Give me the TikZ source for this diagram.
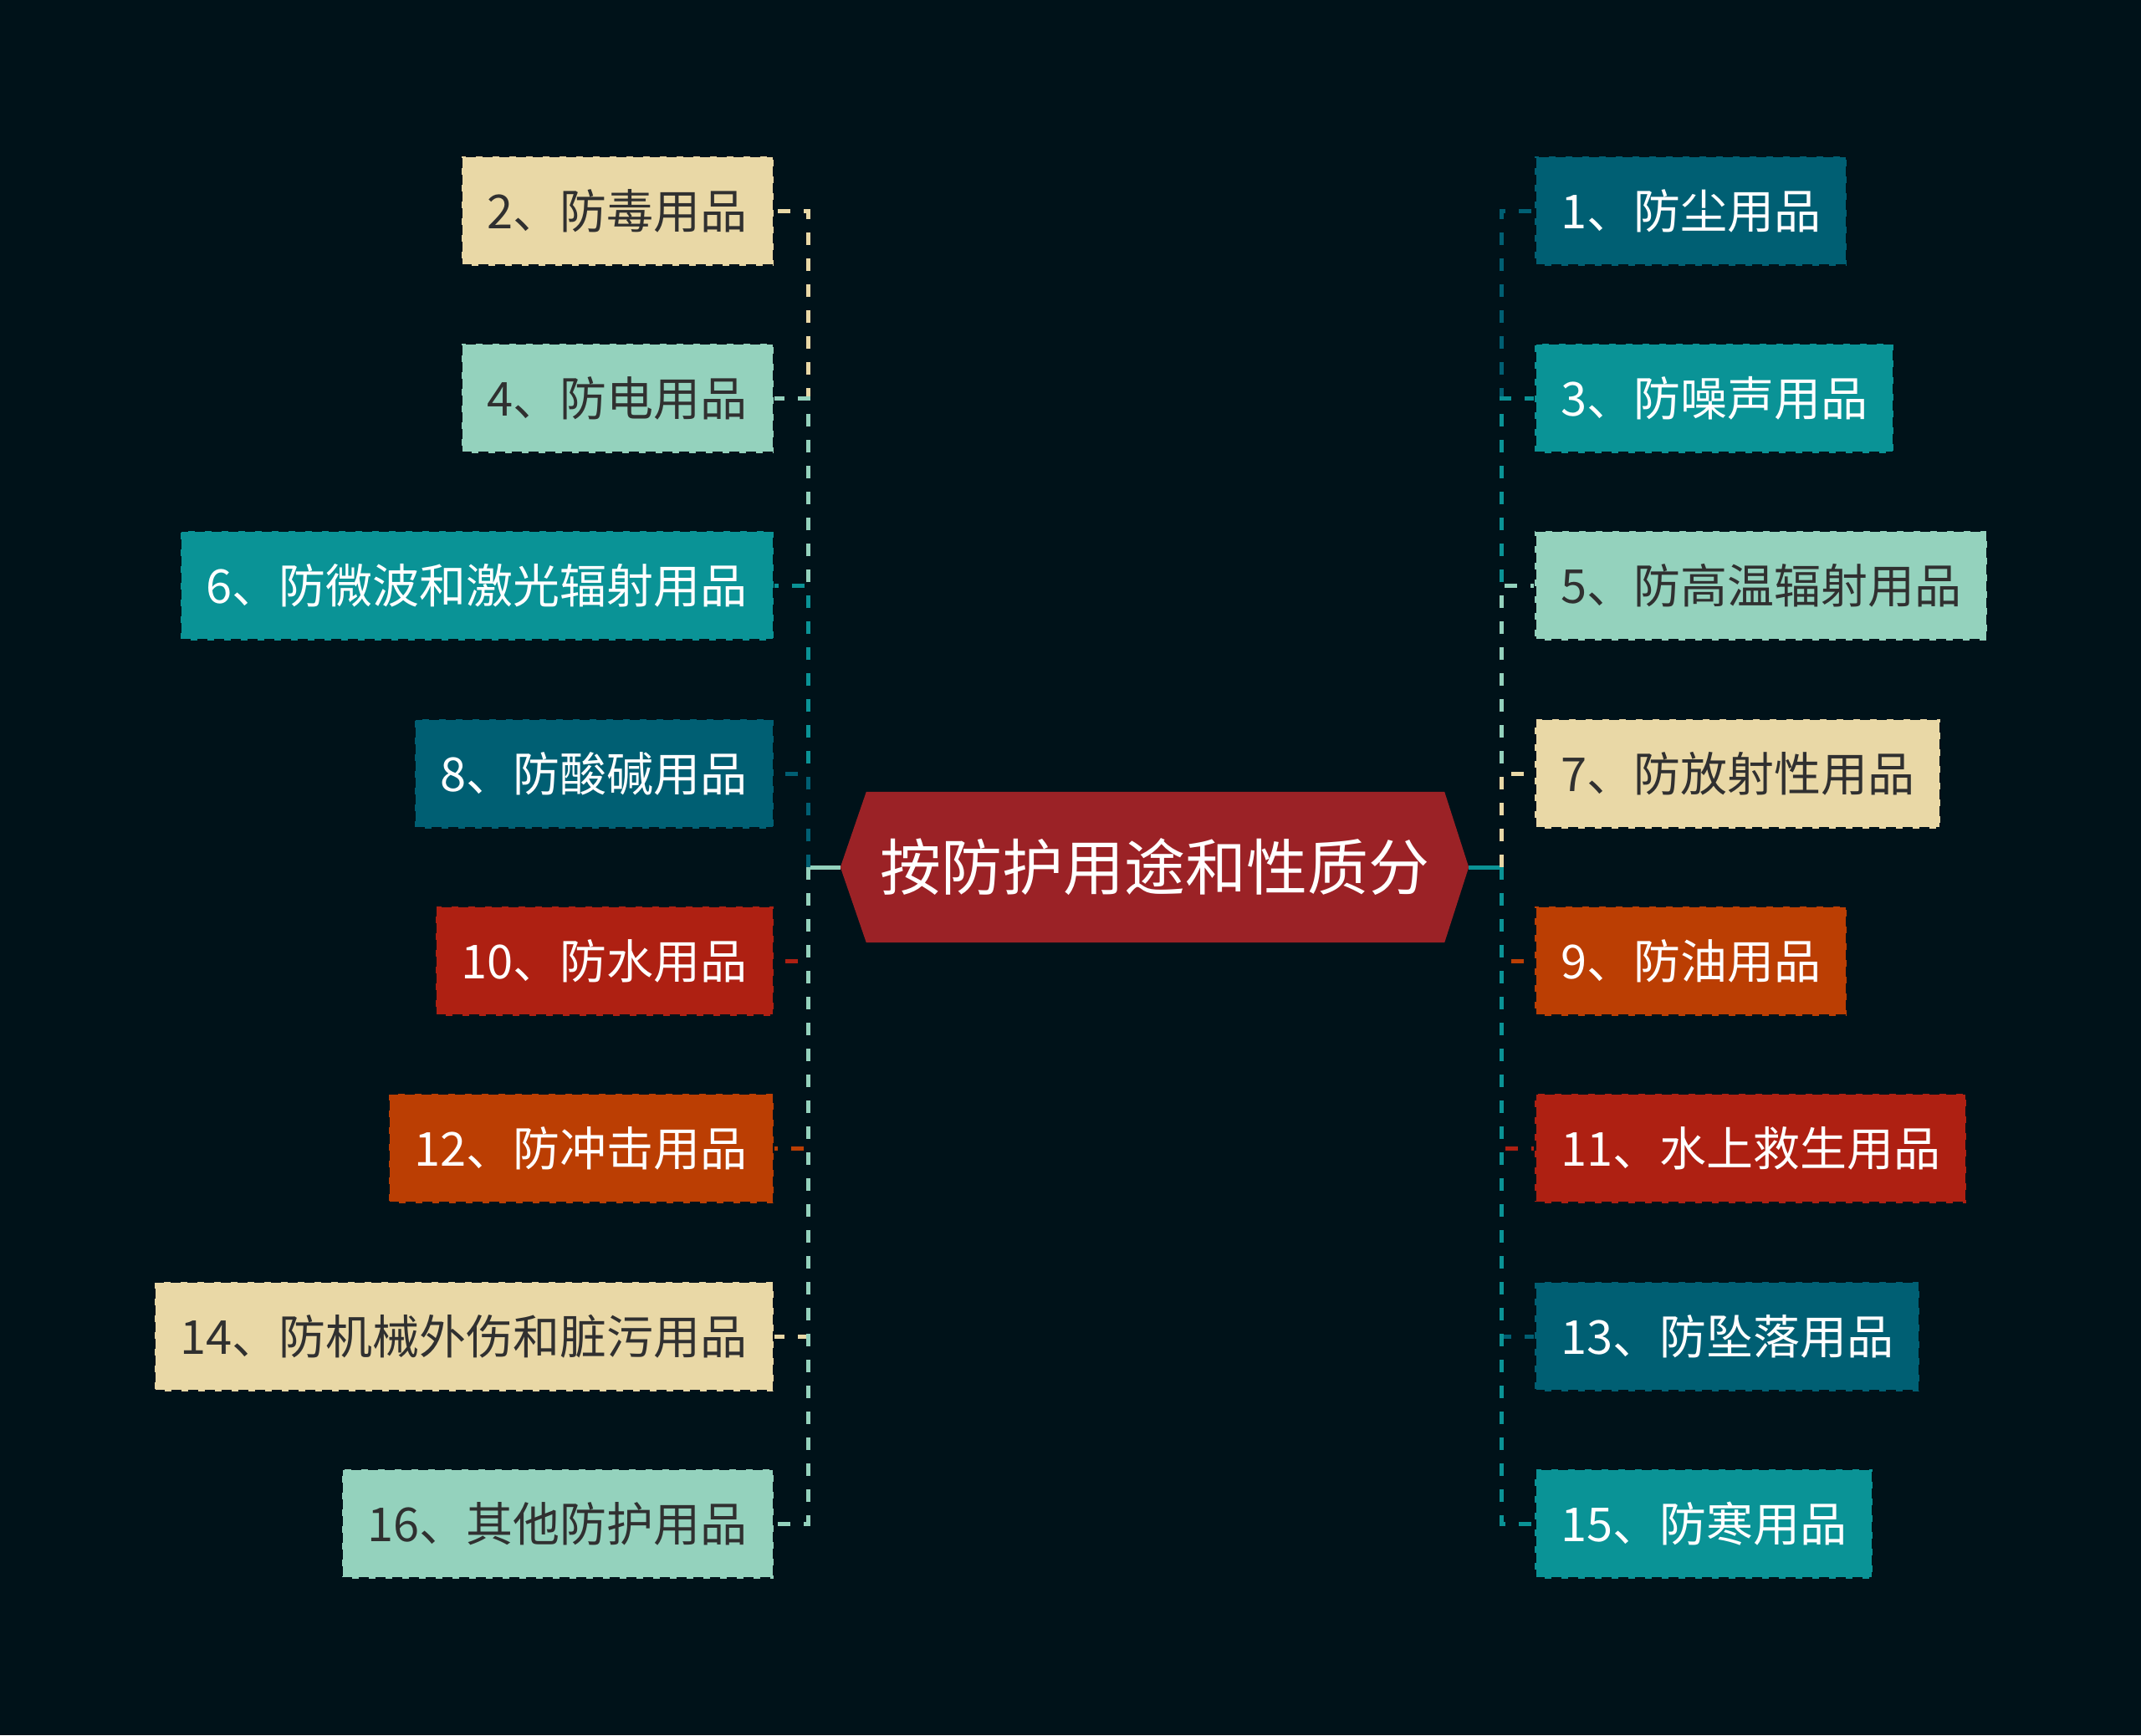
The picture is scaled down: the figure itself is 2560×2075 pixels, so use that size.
\documentclass[tikz,border=0pt]{standalone}
\usepackage{fontspec}
\setmainfont{Noto Sans CJK SC}
\usetikzlibrary{calc,backgrounds}
\definecolor{bg}{HTML}{001219}
\definecolor{cdteal}{HTML}{005F73}
\definecolor{cteal}{HTML}{0A9396}
\definecolor{clteal}{HTML}{94D2BD}
\definecolor{ctan}{HTML}{E9D8A6}
\definecolor{corange}{HTML}{BB3E03}
\definecolor{cred}{HTML}{AE2012}
\definecolor{cdred}{HTML}{9B2226}
\definecolor{cdark}{HTML}{303030}
\begin{document}
\begin{tikzpicture}[x=1bp,y=-1bp,
  leaf/.style={rectangle, minimum height=131bp, inner xsep=31bp, inner ysep=0bp,
    font=\fontsize{56bp}{60bp}\selectfont, draw=bg, line width=2.5bp,
    dash pattern=on 12bp off 8bp},
  lightbox/.style={leaf, fill=#1, text=cdark},
  darkbox/.style={leaf, fill=#1, text=white},
  conn/.style={line width=5bp, dash pattern=on 15bp off 16bp},
  trunk/.style={line width=5bp}]
\useasboundingbox (0,0) rectangle (2560,2075);

\node[minimum width=751bp, minimum height=180bp, inner sep=0bp, text=white,
  font=\fontsize{73bp}{78bp}\selectfont] (root) at (1380.5,1037) {按防护用途和性质分};

% left boxes
\node[lightbox=ctan, anchor=east] (L2) at (926,252) {2、防毒用品};
\node[lightbox=clteal, anchor=east] (L4) at (926,476) {4、防电用品};
\node[darkbox=cteal, anchor=east] (L6) at (926,700) {6、防微波和激光辐射用品};
\node[darkbox=cdteal, anchor=east] (L8) at (926,925) {8、防酸碱用品};
\node[darkbox=cred, anchor=east] (L10) at (926,1149) {10、防水用品};
\node[darkbox=corange, anchor=east] (L12) at (926,1373) {12、防冲击用品};
\node[lightbox=ctan, anchor=east] (L14) at (926,1598) {14、防机械外伤和脏污用品};
\node[lightbox=clteal, anchor=east] (L16) at (926,1822) {16、其他防护用品};

% right boxes
\node[darkbox=cdteal, anchor=west] (R1) at (1834,252) {1、防尘用品};
\node[darkbox=cteal, anchor=west] (R3) at (1834,476) {3、防噪声用品};
\node[lightbox=clteal, anchor=west] (R5) at (1834,700) {5、防高温辐射用品};
\node[lightbox=ctan, anchor=west] (R7) at (1834,925) {7、防放射性用品};
\node[darkbox=corange, anchor=west] (R9) at (1834,1149) {9、防油用品};
\node[darkbox=cred, anchor=west] (R11) at (1834,1373) {11、水上救生用品};
\node[darkbox=cdteal, anchor=west] (R13) at (1834,1598) {13、防坠落用品};
\node[darkbox=cteal, anchor=west] (R15) at (1834,1822) {15、防寒用品};

\coordinate (LT) at (966,1037);
\coordinate (RT) at (1795,1037);

\begin{scope}[on background layer]
\fill[bg] (0,0) rectangle (2560,2075);
\fill[cdred] (root.west) -- ($(root.north west)+(31,0)$) -- ($(root.north east)+(-29,0)$)
  -- (root.east) -- ($(root.south east)+(-29,0)$) -- ($(root.south west)+(31,0)$) -- cycle;
\draw[trunk, clteal] (root.west) -- (LT);
\draw[trunk, cteal] (root.east) -- (RT);
\draw[conn, ctan] (LT) |- (L2.east);
\draw[conn, clteal] (LT) |- (L4.east);
\draw[conn, cteal] (LT) |- (L6.east);
\draw[conn, cdteal] (LT) |- (L8.east);
\draw[conn, cred] (LT) |- (L10.east);
\draw[conn, corange] (LT) |- (L12.east);
\draw[conn, ctan] (LT) |- (L14.east);
\draw[conn, clteal] (LT) |- (L16.east);
\draw[conn, cdteal] (RT) |- (R1.west);
\draw[conn, cteal] (RT) |- (R3.west);
\draw[conn, clteal] (RT) |- (R5.west);
\draw[conn, ctan] (RT) |- (R7.west);
\draw[conn, corange] (RT) |- (R9.west);
\draw[conn, cred] (RT) |- (R11.west);
\draw[conn, cdteal] (RT) |- (R13.west);
\draw[conn, cteal] (RT) |- (R15.west);
\end{scope}
\end{tikzpicture}
\end{document}
